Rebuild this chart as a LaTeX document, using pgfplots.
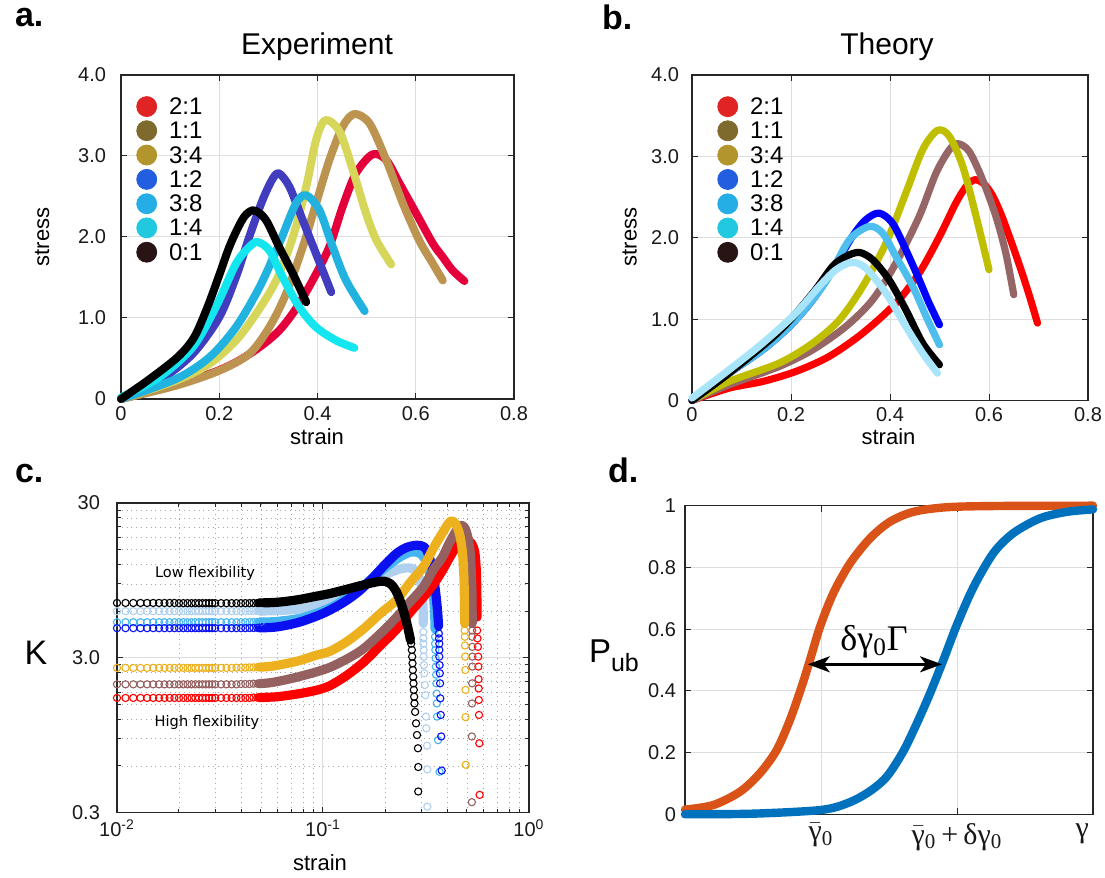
\documentclass[border=0pt]{standalone}
\usepackage{fontspec}
\setmainfont{Liberation Sans}
\newfontfamily\dejavu{DejaVu Sans}
\newfontfamily\timesf{Liberation Serif}
\usepackage{pgfplots}
\pgfplotsset{compat=1.18}
\usepackage{pgfplotstable}
\usetikzlibrary{arrows.meta}

% legend colours
\definecolor{lred}{HTML}{E02424}
\definecolor{lbrn}{HTML}{7F6A2E}
\definecolor{lolv}{HTML}{B3952D}
\definecolor{lblu}{HTML}{215EE0}
\definecolor{lsky}{HTML}{25AEE6}
\definecolor{lcya}{HTML}{20C8E0}
\definecolor{lblk}{HTML}{281414}
% panel a
\definecolor{ared}{HTML}{E4003A}
\definecolor{atan}{HTML}{BC9450}
\definecolor{ayel}{HTML}{D6D65A}
\definecolor{aind}{HTML}{423CBE}
\definecolor{asky}{HTML}{22B2E0}
\definecolor{acya}{HTML}{14E6F0}
% panel b
\definecolor{bred}{HTML}{FF0000}
\definecolor{bbrn}{HTML}{966666}
\definecolor{bolv}{HTML}{BFBF00}
\definecolor{bblu}{HTML}{0000FF}
\definecolor{bsky}{HTML}{4DBEEE}
\definecolor{blbl}{HTML}{A8E4FA}
% panel c
\definecolor{clbl}{HTML}{B0D0F0}
\definecolor{csky}{HTML}{45B4F0}
\definecolor{cblu}{HTML}{0A10F0}
\definecolor{corg}{HTML}{EDB120}
\definecolor{cbrn}{HTML}{946060}
\definecolor{cred}{HTML}{FF0000}
% panel d
\definecolor{dorg}{HTML}{D95319}
\definecolor{dblu}{HTML}{0072BD}

\pgfplotsset{
  matlab/.style={
    scale only axis, anchor=south west,
    axis line style={draw=black!85, line width=0.6pt},
    tick style={draw=black!85, line width=0.5pt},
    tick align=inside, tick pos=both,
    major tick length=3pt, minor tick length=1.8pt,
    major grid style={draw=black!13, line width=0.5pt},
    ticklabel style={font=\fontsize{10}{10}\selectfont, text=black!90},
    /pgf/number format/assume math mode=true,
    clip=false,
  },
  dotleg/.style={
    legend image code/.code={\fill (0pt,4pt) circle (5pt);},
    legend style={anchor=north west, draw=none, fill=none,
      font=\fontsize{12}{12}\selectfont, row sep=0.3pt, column sep=5pt, inner sep=0pt,
      nodes={inner sep=1pt, anchor=base west}},
  },
  thick line/.style={line width=4pt, line cap=round, line join=round, smooth},
  circ/.style={only marks, mark=o, mark size=1.8pt, mark options={line width=0.55pt}},
  band/.style={line width=4.6pt, line cap=round, line join=round, smooth},
}

% ---- panel c plateau (open circles) ----
\pgfplotstableread{
x     bk   lb   sk   bl   or   br   rd
0.010 6.78 6.00 5.09 4.66 2.58 2.02 1.65
0.011 6.78 6.00 5.09 4.66 2.58 2.02 1.65
0.012 6.78 6.00 5.09 4.66 2.58 2.02 1.65
0.013 6.78 6.00 5.09 4.66 2.58 2.02 1.65
0.014 6.78 6.00 5.09 4.66 2.58 2.02 1.65
0.015 6.78 6.00 5.09 4.66 2.58 2.02 1.65
0.016 6.78 6.00 5.09 4.66 2.58 2.02 1.65
0.017 6.78 6.00 5.09 4.66 2.58 2.02 1.65
0.018 6.78 6.00 5.09 4.66 2.58 2.02 1.65
0.019 6.78 6.00 5.09 4.66 2.58 2.02 1.65
0.020 6.76 6.00 5.09 4.66 2.58 2.02 1.65
0.021 6.76 6.00 5.09 4.66 2.58 2.02 1.65
0.022 6.76 6.00 5.09 4.66 2.58 2.02 1.65
0.023 6.76 6.00 5.09 4.66 2.58 2.02 1.65
0.024 6.76 6.00 5.09 4.66 2.58 2.02 1.65
0.025 6.76 6.00 5.09 4.66 2.58 2.02 1.65
0.026 6.76 6.00 5.09 4.66 2.58 2.02 1.65
0.027 6.76 6.00 5.09 4.66 2.58 2.02 1.65
0.028 6.76 6.00 5.09 4.66 2.58 2.02 1.65
0.029 6.76 6.00 5.09 4.66 2.58 2.02 1.65
0.030 6.76 6.00 5.09 4.66 2.58 2.02 1.65
0.032 6.76 6.00 5.09 4.66 2.58 2.02 1.65
0.034 6.76 6.00 5.09 4.66 2.58 2.02 1.65
0.036 6.76 6.00 5.09 4.66 2.58 2.02 1.65
0.038 6.76 6.00 5.09 4.66 2.59 2.02 1.65
0.040 6.76 6.00 5.09 4.66 2.59 2.03 1.65
0.042 6.76 6.00 5.09 4.66 2.59 2.03 1.65
0.044 6.76 6.01 5.10 4.67 2.60 2.03 1.65
0.046 6.77 6.01 5.10 4.67 2.60 2.04 1.66
0.048 6.77 6.02 5.11 4.68 2.61 2.04 1.66
0.050 6.78 6.02 5.11 4.68 2.61 2.05 1.66
}\platC

\begin{document}
\begin{tikzpicture}
\useasboundingbox (0,0) rectangle (552.5pt,439pt);

% ================= panel a =================
\begin{axis}[matlab, dotleg, at={(60.5pt,239.5pt)}, width=196.5pt, height=162pt,
  xmin=0, xmax=0.8, ymin=0, ymax=4,
  xtick={0,0.2,0.4,0.6,0.8}, xticklabels={0,0.2,0.4,0.6,0.8},
  ytick={0,1,2,3,4}, yticklabels={0,1.0,2.0,3.0,4.0},
  grid=major, yticklabel style={xshift=-4pt},
  legend style={at={(axis description cs:0.038,0.937)}}]
\addlegendimage{color=lred}
\addlegendimage{color=lbrn}
\addlegendimage{color=lolv}
\addlegendimage{color=lblu}
\addlegendimage{color=lsky}
\addlegendimage{color=lcya}
\addlegendimage{color=lblk}
\addplot[thick line, ared] table {
0 0
0.078 0.124
0.18 0.31
0.234 0.454
0.282 0.64
0.322 0.845
0.356 1.113
0.39 1.464
0.424 1.876
0.451 2.371
0.478 2.784
0.512 3.02
0.54 2.95
0.567 2.66
0.601 2.29
0.635 1.918
0.655 1.753
0.675 1.588
0.699 1.456
};
\addplot[thick line, atan] table {
0 0
0.112 0.165
0.2 0.35
0.261 0.557
0.302 0.887
0.336 1.299
0.37 1.876
0.397 2.412
0.424 2.948
0.451 3.361
0.475 3.518
0.506 3.402
0.54 2.948
0.574 2.412
0.607 1.959
0.635 1.67
0.655 1.464
};
\addplot[thick line, ayel] table {
0 0
0.112 0.227
0.18 0.433
0.234 0.722
0.275 1.052
0.316 1.464
0.35 2.0
0.377 2.619
0.397 3.196
0.416 3.443
0.445 3.3
0.472 2.825
0.499 2.289
0.52 1.959
0.55 1.662
};
\addplot[thick line, aind] table {
0 0
0.078 0.227
0.146 0.557
0.2 1.01
0.234 1.505
0.261 2.0
0.288 2.454
0.309 2.722
0.322 2.784
0.343 2.619
0.37 2.206
0.397 1.794
0.428 1.32
};
\addplot[thick line, asky] table {
0 0
0.112 0.247
0.18 0.515
0.234 0.887
0.282 1.381
0.322 1.918
0.356 2.412
0.377 2.515
0.404 2.33
0.431 1.876
0.458 1.464
0.496 1.085
};
\addplot[thick line, acya] table {
0 0.02
0.078 0.268
0.146 0.64
0.193 1.134
0.234 1.67
0.261 1.876
0.278 1.938
0.302 1.835
0.329 1.505
0.363 1.134
0.397 0.887
0.438 0.722
0.475 0.631
};
\addplot[thick line, black] table {
0 0
0.054 0.227
0.115 0.515
0.149 0.763
0.176 1.134
0.2 1.53
0.22 1.87
0.237 2.1
0.252 2.26
0.268 2.33
0.283 2.29
0.298 2.18
0.322 1.876
0.35 1.546
0.377 1.196
};
\legend{2:1,1:1,3:4,1:2,3:8,1:4,0:1}
\end{axis}

% ================= panel b =================
\begin{axis}[matlab, dotleg, at={(346pt,238.75pt)}, width=198pt, height=162.75pt,
  xmin=0, xmax=0.8, ymin=0, ymax=4,
  xtick={0,0.2,0.4,0.6,0.8}, xticklabels={0,0.2,0.4,0.6,0.8},
  ytick={0,1,2,3,4}, yticklabels={0,1.0,2.0,3.0,4.0},
  grid=major, yticklabel style={xshift=-3pt},
  legend style={at={(axis description cs:0.063,0.937)}}]
\addlegendimage{color=lred}
\addlegendimage{color=lbrn}
\addlegendimage{color=lolv}
\addlegendimage{color=lblu}
\addlegendimage{color=lsky}
\addlegendimage{color=lcya}
\addlegendimage{color=lblk}
\addplot[thick line, line width=3.6pt, bred] table {
0 0
0.075 0.152
0.143 0.234
0.21 0.357
0.277 0.541
0.345 0.828
0.412 1.197
0.459 1.566
0.5 2.016
0.533 2.426
0.555 2.64
0.572 2.713
0.59 2.66
0.607 2.52
0.625 2.28
0.645 1.95
0.665 1.6
0.682 1.28
0.698 0.951
};
\addplot[thick line, line width=3.6pt, bbrn] table {
0 0
0.075 0.193
0.176 0.418
0.244 0.623
0.311 0.91
0.365 1.238
0.412 1.689
0.459 2.262
0.493 2.795
0.52 3.082
0.537 3.156
0.56 3.061
0.587 2.713
0.614 2.262
0.634 1.811
0.65 1.3
};
\addplot[thick line, line width=3.6pt, bolv] table {
0 0
0.075 0.234
0.176 0.459
0.244 0.705
0.298 0.992
0.345 1.402
0.392 1.934
0.432 2.549
0.466 3.082
0.496 3.32
0.52 3.246
0.547 2.877
0.574 2.262
0.6 1.607
};
\addplot[thick line, line width=3.6pt, bblu] table {
0 0
0.075 0.336
0.143 0.623
0.197 0.91
0.244 1.238
0.284 1.607
0.324 2.016
0.351 2.221
0.378 2.303
0.405 2.18
0.432 1.852
0.459 1.484
0.479 1.197
0.5 0.93
};
\addplot[thick line, line width=3.6pt, bsky] table {
0 0
0.075 0.336
0.143 0.623
0.197 0.91
0.244 1.238
0.277 1.525
0.318 1.975
0.358 2.139
0.385 2.057
0.412 1.77
0.446 1.402
0.473 1.033
0.5 0.684
};
\addplot[thick line, line width=3.6pt, black] table {
0 0
0.075 0.336
0.176 0.848
0.244 1.32
0.284 1.648
0.311 1.77
0.338 1.82
0.365 1.73
0.398 1.484
0.432 1.115
0.466 0.705
0.5 0.439
};
\addplot[thick line, line width=3.6pt, blbl] table {
0 0.03
0.075 0.377
0.143 0.705
0.21 1.074
0.257 1.402
0.291 1.607
0.323 1.697
0.351 1.627
0.392 1.32
0.432 0.91
0.466 0.582
0.496 0.336
};
\legend{2:1,1:1,3:4,1:2,3:8,1:4,0:1}
\end{axis}

% ================= panel c =================
\begin{axis}[matlab, at={(58.5pt,32.75pt)}, width=206pt, height=154.75pt,
  xmode=log, ymode=log, xmin=0.01, xmax=1, ymin=0.3, ymax=30,
  xtick={0.01,0.1,1}, xticklabels={10\textsuperscript{-2},10\textsuperscript{-1},10\textsuperscript{0}},
  ytick={0.3,3,30}, yticklabels={0.3,3.0,30},
  minor xtick={0.02,0.03,0.04,0.05,0.06,0.07,0.08,0.09,0.2,0.3,0.4,0.5,0.6,0.7,0.8,0.9},
  minor ytick={0.6,0.9,1.2,1.5,1.8,2.1,2.4,2.7,6,9,12,15,18,21,24,27},
  grid=both, minor grid style={draw=black!35, line width=0.4pt, dotted},
  yticklabel style={xshift=-5pt}]
% plateau circles
\addplot[circ, clbl] table[x=x,y=lb] {\platC};
\addplot[circ, csky] table[x=x,y=sk] {\platC};
\addplot[circ, cblu] table[x=x,y=bl] {\platC};
\addplot[circ, cred] table[x=x,y=rd] {\platC};
\addplot[circ, cbrn] table[x=x,y=br] {\platC};
\addplot[circ, corg] table[x=x,y=or] {\platC};
\addplot[circ, black] table[x=x,y=bk] {\platC};
% light blue
\addplot[band, clbl] table {
0.049 6.02
0.06 6.05
0.08 6.25
0.108 6.9
0.13 7.6
0.151 8.4
0.18 9.6
0.21 10.6
0.24 11.3
0.265 11.4
0.285 10.8
0.297 9.3
0.303 7.8
0.306 6.3
0.307 5.0
};
\addplot[circ, clbl] table {
0.307 4.4
0.307 4.0
0.307 3.7
0.308 3.37
0.308 3.05
0.309 2.69
0.310 2.38
0.312 2.0
0.314 1.72
0.316 1.25
0.317 1.05
0.320 0.81
0.321 0.57
0.321 0.327
};
% sky
\addplot[band, csky] table {
0.049 5.10
0.06 5.15
0.08 5.45
0.108 6.3
0.13 7.3
0.151 8.4
0.18 10.2
0.21 12.0
0.24 13.6
0.27 14.5
0.295 14.2
0.315 12.8
0.33 10.5
0.342 8.0
0.348 6.0
0.35 4.6
};
\addplot[circ, csky] table {
0.350 4.1
0.350 3.7
0.351 3.37
0.352 2.98
0.353 2.63
0.354 2.33
0.355 2.05
0.356 1.76
0.357 1.52
0.358 1.25
0.362 0.88
0.368 0.55
};
% blue
\addplot[band, cblu] table {
0.049 4.68
0.06 4.75
0.077 5.1
0.1 5.8
0.125 6.8
0.15 8.1
0.175 9.9
0.2 12.0
0.228 14.2
0.255 15.5
0.285 16.0
0.31 15.6
0.325 14.0
0.34 11.0
0.352 8.0
0.36 6.0
0.364 4.8
};
\addplot[circ, cblu] table {
0.365 4.3
0.366 4.0
0.367 3.7
0.367 3.37
0.367 3.05
0.368 2.69
0.369 2.38
0.370 2.05
0.371 1.64
0.373 1.28
0.375 0.93
0.377 0.56
};
% red
\addplot[band, cred] table {
0.049 1.66
0.06 1.68
0.075 1.75
0.093 1.85
0.108 1.98
0.13 2.3
0.157 2.8
0.19 3.6
0.228 4.6
0.265 5.9
0.307 7.4
0.345 9.0
0.38 11.0
0.41 13.2
0.445 15.8
0.475 17.0
0.50 17.3
0.525 16.5
0.545 14.5
0.555 11.0
0.558 8.0
0.56 5.5
};
\addplot[circ, cred] table {
0.560 4.5
0.562 4.0
0.565 3.53
0.567 3.05
0.568 2.63
0.569 2.18
0.570 1.90
0.571 1.60
0.572 1.28
0.574 0.84
0.576 0.39
};
% brown
\addplot[band, cbrn] table {
0.049 2.04
0.057 2.08
0.075 2.25
0.108 2.6
0.151 3.3
0.19 4.3
0.228 5.5
0.265 6.9
0.307 8.6
0.345 11.2
0.38 13.4
0.41 16.5
0.445 20.0
0.471 21.5
0.49 20.5
0.505 18.0
0.518 14.5
0.525 10.5
0.529 7.5
0.53 5.0
};
\addplot[circ, cbrn] table {
0.530 4.5
0.530 4.1
0.531 3.53
0.531 3.05
0.531 2.63
0.530 2.05
0.529 1.52
0.528 0.93
0.528 0.35
};
% orange
\addplot[band, corg] table {
0.049 2.61
0.057 2.65
0.075 2.85
0.093 3.12
0.108 3.3
0.13 3.8
0.157 4.6
0.19 5.8
0.228 7.1
0.265 9.2
0.307 11.6
0.345 15.5
0.38 19.2
0.405 22.0
0.421 23.0
0.44 22.0
0.46 18.9
0.475 14.5
0.483 10.0
0.486 7.0
0.487 5.0
};
\addplot[circ, corg] table {
0.487 4.5
0.488 4.1
0.489 3.6
0.490 3.05
0.491 2.5
0.492 1.86
0.492 1.24
0.493 0.61
};
% black
\addplot[band, black] table {
0.049 6.78
0.06 6.85
0.075 7.1
0.093 7.5
0.108 7.8
0.13 8.3
0.151 8.75
0.17 9.1
0.189 9.35
0.2 9.35
0.213 9.0
0.225 8.2
0.236 7.1
0.248 5.8
0.259 4.6
0.266 3.9
};
\addplot[circ, black] table {
0.266 4.0
0.268 3.7
0.270 3.37
0.271 3.05
0.272 2.76
0.273 2.50
0.274 2.26
0.275 2.05
0.276 1.86
0.277 1.68
0.278 1.52
0.280 1.34
0.283 1.13
0.286 0.95
0.289 0.78
0.290 0.59
0.290 0.41
};
\end{axis}

% ================= panel d =================
\begin{axis}[matlab, at={(342.5pt,31.85pt)}, width=204pt, height=154.3pt,
  xmin=0, xmax=3, ymin=0, ymax=1,
  xtick={1,2,3},
  xticklabels={{\fontsize{15}{15}\selectfont\timesf$\bar{\hbox{γ}}$\textsubscript{0}},
               {\fontsize{15}{15}\selectfont\timesf$\bar{\hbox{γ}}$\textsubscript{0}\,+\,δγ\textsubscript{0}},
               {\makebox[0pt][r]{\fontsize{15}{15}\selectfont\timesf γ\kern2pt}}},
  ytick={0,0.2,0.4,0.6,0.8,1}, yticklabels={0,0.2,0.4,0.6,0.8,1},
  grid=major, yticklabel style={xshift=-1pt},
  xticklabel style={yshift=-1pt}]
\addplot[thick line, line width=4.2pt, dorg] table {
0 0.015
0.208 0.03
0.404 0.073
0.551 0.133
0.674 0.208
0.772 0.306
0.858 0.414
0.919 0.5
0.993 0.608
1.09 0.716
1.213 0.813
1.36 0.894
1.507 0.948
1.679 0.98
1.924 0.995
2.3 0.999
3 1.0
};
\addplot[thick line, line width=4.2pt, dblu] table {
0 0.0
0.5 0.002
1.0 0.014
1.2 0.037
1.35 0.072
1.48 0.12
1.6 0.2
1.7 0.29
1.8 0.39
1.9 0.5
2.0 0.615
2.12 0.735
2.267 0.846
2.414 0.911
2.61 0.959
2.807 0.98
3.0 0.988
};
\draw[{Stealth[length=11pt,width=8pt,inset=3pt]}-{Stealth[length=11pt,width=8pt,inset=3pt]}, line width=1.4pt]
  (axis cs:0.903,0.486) -- (axis cs:1.89,0.486);
\node[font=\fontsize{18}{18}\selectfont\timesf] at (axis cs:1.39,0.56) {δγ\textsubscript{0}Γ};
\end{axis}

% ================= texts =================
\node[anchor=base west, font=\fontsize{17}{17}\selectfont\bfseries] at (4pt,425.5pt) {a.};
\node[anchor=base west, font=\fontsize{17}{17}\selectfont\bfseries] at (297.5pt,424pt) {b.};
\node[anchor=base west, font=\fontsize{17}{17}\selectfont\bfseries] at (4pt,197.5pt) {c.};
\node[anchor=base west, font=\fontsize{17}{17}\selectfont\bfseries] at (300.5pt,197.5pt) {d.};
\node[font=\fontsize{15}{15}\selectfont] at (158.5pt,415.5pt) {Experiment};
\node[font=\fontsize{15}{15}\selectfont] at (443.5pt,415.5pt) {Theory};
\node[font=\fontsize{11}{11}\selectfont, rotate=90] at (21pt,320.5pt) {stress};
\node[font=\fontsize{11}{11}\selectfont] at (158.5pt,220.5pt) {strain};
\node[font=\fontsize{11}{11}\selectfont, rotate=90] at (314.75pt,320.5pt) {stress};
\node[font=\fontsize{11}{11}\selectfont] at (444.25pt,220.5pt) {strain};
\node[font=\fontsize{11}{11}\selectfont] at (160pt,7.5pt) {strain};
\node[font=\fontsize{17}{17}\selectfont] at (18pt,112.5pt) {K};
\node[anchor=base west, font=\fontsize{16.5}{16.5}\selectfont] at (291pt,107.5pt) {P\raisebox{-4.5pt}{\fontsize{12.5}{12.5}\selectfont ub}};
\node[font=\fontsize{7.3}{7.3}\selectfont\dejavu] at (102.5pt,152.5pt) {Low flexibility};
\node[font=\fontsize{7.3}{7.3}\selectfont\dejavu] at (103.5pt,78pt) {High flexibility};
\end{tikzpicture}
\end{document}
